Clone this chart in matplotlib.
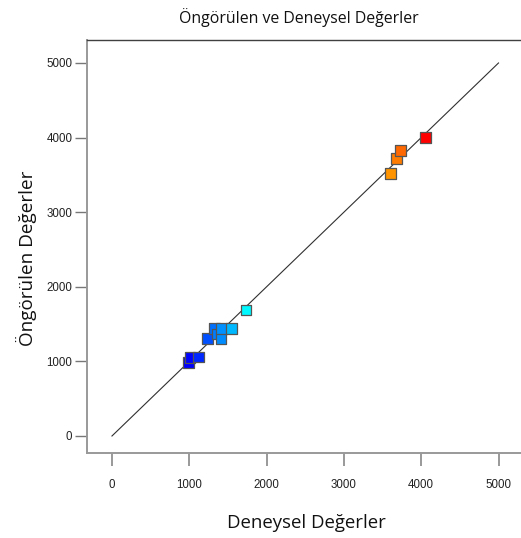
import matplotlib
matplotlib.use("Agg")
import matplotlib.pyplot as plt
from matplotlib.colors import LinearSegmentedColormap, Normalize

plt.rcParams["font.family"] = ["Liberation Sans", "DejaVu Sans"]

# Actual (experimental) vs predicted values
actual = [987, 1009, 1117, 1233, 1324, 1367, 1410, 1419, 1548, 1734,
          3605, 3678, 3735, 4053]
predicted = [983, 1055, 1059, 1310, 1443, 1367, 1310, 1443, 1443, 1686,
             3521, 3717, 3824, 4004]
ticks = [0, 1000, 2000, 3000, 4000, 5000]
diag = [0, 5000]

title = "Öngörülen ve Deneysel Değerler"
xlabel = "Deneysel Değerler"
ylabel = "Öngörülen Değerler"

fig = plt.figure(figsize=(5.21, 5.38), dpi=100)
ax = fig.add_axes([87 / 521, 85 / 538, 434 / 521, 413 / 538])

cmap = LinearSegmentedColormap.from_list(
    "bcgyr", ["#0000ff", "#00ffff", "#00ff00", "#ffff00", "#ff0000"])
norm = Normalize(vmin=min(actual), vmax=max(actual))

ax.plot(diag, diag, color="#303030", lw=0.8, zorder=1)
ax.scatter(actual, predicted, marker="s", s=58, c=actual, cmap=cmap, norm=norm,
           edgecolors="#555555", linewidths=0.9, zorder=3)

ax.set_xlim(-323, 5291)
ax.set_ylim(-228, 5308)
ax.set_xticks(ticks)
ax.set_yticks(ticks)
ax.set_xticklabels([str(t) for t in ticks])
ax.set_yticklabels([str(t) for t in ticks])

ax.spines["right"].set_visible(False)
ax.spines["top"].set_color("#404040")
ax.spines["top"].set_linewidth(1.0)
for s in ("left", "bottom"):
    ax.spines[s].set_color("#999999")
    ax.spines[s].set_linewidth(1.4)

ax.tick_params(axis="x", direction="out", length=9, width=1.2, color="#888888",
               labelsize=8.3, labelcolor="#222222", pad=10)
ax.tick_params(axis="y", direction="out", length=9, width=1.0, color="#777777",
               labelsize=8.3, labelcolor="#222222", pad=1.5)

fig.text(299 / 521, 1 - 18 / 538, title, ha="center", va="center",
         fontsize=11.4, family="Open Sans", color="#111111")
fig.text(306 / 521, 1 - 523 / 538, xlabel, ha="center", va="center",
         fontsize=13.4, family="Open Sans", color="#111111")
fig.text(26 / 521, 1 - 258 / 538, ylabel, ha="center", va="center",
         rotation=90, fontsize=13.6, family="Open Sans", color="#111111")

fig.savefig("out.png", dpi=100)
